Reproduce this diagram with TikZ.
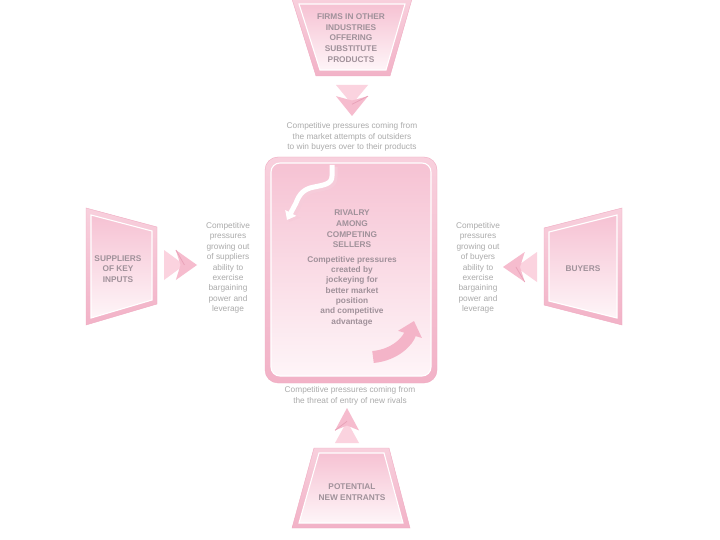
\documentclass[tikz,border=0pt]{standalone}
\usepackage{fontspec}
\setmainfont{Liberation Sans}
\usetikzlibrary{arrows.meta}
\definecolor{outTop}{HTML}{F8D0DD}
\definecolor{outBot}{HTML}{F2B2C7}
\definecolor{inTop}{HTML}{F6C2D3}
\definecolor{inBot}{HTML}{FEF5F8}
\definecolor{pinkEdge}{HTML}{F0AAC1}
\definecolor{chevA}{HTML}{FBD3DF}
\definecolor{chevB}{HTML}{F6BCCE}
\definecolor{chevLine}{HTML}{E9A3B9}
\definecolor{descGrey}{HTML}{ABABAB}
\definecolor{titleGrey}{HTML}{A0919A}
\definecolor{arrowPink}{HTML}{F4B4C8}
\newcommand\dchevron[5]{% x, y, rotation, length, half-width
  \begin{scope}[shift={(#1,#2)},rotate=#3]
    \fill[chevA] (0,-#5) -- (0.62*#4,0) -- (0,#5) -- cycle;
    \fill[chevB] (0.36*#4,-#5) -- (#4,0) -- (0.36*#4,#5) -- (0.5*#4,0) -- cycle;
    \draw[chevLine, line width=0.8pt] (0.36*#4,-#5) -- (0.62*#4,0);
  \end{scope}}
\begin{document}
\begin{tikzpicture}[x=1pt,y=-1pt,
  desc/.style={inner sep=0pt, align=center, text=descGrey, font=\fontsize{8.3}{10.4}\selectfont},
  ttl/.style={inner sep=0pt, align=center, text=titleGrey, font=\bfseries\fontsize{8.3}{10.6}\selectfont},
  outerShape/.style={top color=outTop, bottom color=outBot, draw=pinkEdge, line width=0.4pt},
  innerShape/.style={top color=inTop, bottom color=inBot, draw=white, line width=1.1pt}]
\useasboundingbox (0,0) rectangle (720,540);
\fill[white] (0,0) rectangle (720,540);

% top trapezoid: substitutes
\shadedraw[outerShape] (292,-1) -- (412,-1) -- (390,76) -- (316,76) -- cycle;
\shadedraw[innerShape] (299,4) -- (405,4) -- (386,70) -- (320,70) -- cycle;
\node[ttl] (subs) at (351,38) {FIRMS IN OTHER\\INDUSTRIES\\OFFERING\\SUBSTITUTE\\PRODUCTS};

% left trapezoid: suppliers
\shadedraw[outerShape] (86,208) -- (157,227) -- (157,304) -- (86,325) -- cycle;
\shadedraw[innerShape] (91,215) -- (152,231) -- (152,300) -- (91,318) -- cycle;
\node[ttl] (supp) at (118,269) {SUPPLIERS\\OF KEY\\INPUTS};

% right trapezoid: buyers
\shadedraw[outerShape] (544,228) -- (622,208) -- (622,325) -- (544,305) -- cycle;
\shadedraw[innerShape] (549,232) -- (617,215) -- (617,318) -- (549,301) -- cycle;
\node[ttl] (buy) at (583,269) {BUYERS};

% bottom trapezoid: new entrants
\shadedraw[outerShape] (314,448) -- (389,448) -- (410,528) -- (292,528) -- cycle;
\shadedraw[innerShape] (319,453) -- (384,453) -- (403,523) -- (299,523) -- cycle;
\node[ttl] (ent) at (352,492) {POTENTIAL\\NEW ENTRANTS};

% central box: rivalry
\shadedraw[rounded corners=13pt, outerShape] (265,157) rectangle (437,383);
\shadedraw[rounded corners=9pt, innerShape] (271,163) rectangle (431,376);

% curly arrows in the central box
\draw[line width=7pt, pinkEdge!60, -{Triangle[length=9pt,width=15pt]}]
  (334,167) -- (334,177) .. controls (334,186) and (326,187) .. (316,189)
  .. controls (305,191) and (301,197) .. (298,205) -- (289,222);
\draw[line width=5pt, white, -{Triangle[length=8pt,width=12pt]}]
  (332,165) -- (332,176) .. controls (332,184) and (324,185) .. (314,187)
  .. controls (303,189) and (299,195) .. (296,203) -- (287,220);
\draw[line width=12pt, arrowPink, -{Triangle[length=14pt,width=24pt]}]
  (373,357) .. controls (395,355) and (408,341) .. (414,321);

\node[ttl] (rivt) at (352,229) {RIVALRY\\AMONG\\COMPETING\\SELLERS};
\node[ttl, font=\bfseries\fontsize{8.3}{10.3}\selectfont] (rivd) at (352,291)
  {Competitive pressures\\created by\\jockeying for\\better market\\position\\and competitive\\advantage};

% descriptions
\node[desc] (subsd) at (352,137) {Competitive pressures coming from\\the market attempts of outsiders\\to win buyers over to their products};
\node[desc] (suppd) at (228,268) {Competitive\\pressures\\growing out\\of suppliers\\ability to\\exercise\\bargaining\\power and\\leverage};
\node[desc] (buyd) at (478,268) {Competitive\\pressures\\growing out\\of buyers\\ability to\\exercise\\bargaining\\power and\\leverage};
\node[desc] (entd) at (350,396) {Competitive pressures coming from\\the threat of entry of new rivals};

% chevrons
\dchevron{352}{85}{-90}{31}{16}
\dchevron{164}{265}{0}{33}{15}
\dchevron{537}{267}{180}{34}{15}
\dchevron{347}{443}{90}{35}{12}
\end{tikzpicture}
\end{document}
